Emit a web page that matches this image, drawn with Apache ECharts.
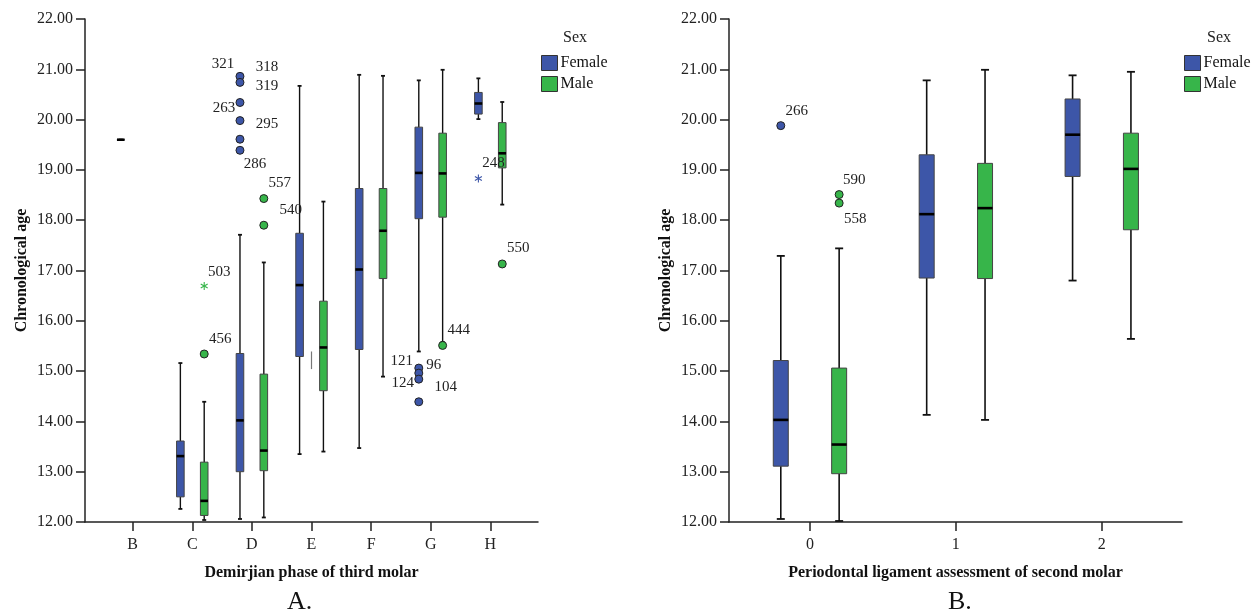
<!DOCTYPE html>
<html>
<head>
<meta charset="utf-8">
<script src="https://cdn.jsdelivr.net/npm/echarts@6/dist/echarts.min.js"></script>
<style>
html,body{margin:0;padding:0;background:#fff;}
#chart{width:1255px;height:614px;}
</style>
</head>
<body>
<div id="chart"></div>
<script>
// ---------- DATA ----------
const phaseCategories = ['B', 'C', 'D', 'E', 'F', 'G', 'H'];
const pdlCategories = ['0', '1', '2'];
const yTickValues = [12, 13, 14, 15, 16, 17, 18, 19, 20, 21, 22];

// [lower whisker, Q1, median, Q3, upper whisker]; null = no group
const phaseFemale = [
  [19.60, 19.60, 19.60, 19.60, 19.60],
  [12.26, 12.50, 13.31, 13.61, 15.16],
  [12.06, 13.00, 14.02, 15.35, 17.71],
  [13.35, 15.29, 16.71, 17.74, 20.67],
  [13.47, 15.43, 17.02, 18.63, 20.89],
  [15.39, 18.03, 18.94, 19.85, 20.78],
  [20.01, 20.11, 20.32, 20.54, 20.82]
];
const phaseMale = [
  null,
  [12.04, 12.13, 12.42, 13.19, 14.39],
  [12.09, 13.02, 13.42, 14.94, 17.16],
  [13.40, 14.61, 15.47, 16.39, 18.37],
  [14.89, 16.84, 17.79, 18.63, 20.87],
  [15.58, 18.06, 18.93, 19.73, 20.99],
  [18.31, 19.04, 19.33, 19.94, 20.35]
];
const pdlFemale = [
  [12.06, 13.11, 14.03, 15.21, 17.29],
  [14.13, 16.85, 18.12, 19.30, 20.78],
  [16.80, 18.87, 19.70, 20.41, 20.88]
];
const pdlMale = [
  [12.02, 12.96, 13.54, 15.06, 17.44],
  [14.03, 16.84, 18.24, 19.13, 20.99],
  [15.64, 17.81, 19.02, 19.73, 20.95]
];

// outliers: [category, value, case id, kind]  kind 'o' = outlier, '*' = extreme
const phaseFemaleOutliers = [
  ['D', 20.86, '321', 'o'], ['D', 20.74, '318', 'o'], ['D', 20.34, '319', 'o'],
  ['D', 19.98, '263', 'o'], ['D', 19.61, '295', 'o'], ['D', 19.39, '286', 'o'],
  ['G', 15.06, '121', 'o'], ['G', 14.96, '96', 'o'], ['G', 14.84, '124', 'o'],
  ['G', 14.39, '104', 'o'],
  ['H', 18.83, '248', '*']
];
const phaseMaleOutliers = [
  ['C', 16.69, '503', '*'], ['C', 15.34, '456', 'o'],
  ['D', 18.43, '557', 'o'], ['D', 17.90, '540', 'o'],
  ['G', 15.51, '444', 'o'],
  ['H', 17.13, '550', 'o']
];
const pdlFemaleOutliers = [['0', 19.88, '266', 'o']];
const pdlMaleOutliers = [['0', 18.51, '590', 'o'], ['0', 18.34, '558', 'o']];

// small grey stray mark at phase E: [category, from, to]
const phaseStrayMark = [['E', 15.04, 15.39]];

// ---------- LAYOUT / STYLE ----------
const labelOffsets = {
  '321': [-17, -12], '318': [27, -15], '319': [27, -16], '263': [-16, -13],
  '295': [27, -15], '286': [15, 14], '557': [16, -16], '540': [27, -15],
  '503': [15, -14], '456': [16, -15], '444': [16, -15], '121': [-17, -7],
  '96': [15, -8], '124': [-16, 4], '104': [27, -15], '248': [15, -15],
  '550': [16, -16], '266': [16, -15], '590': [15, -14], '558': [16, 16]
};
const BLUE = '#3d56a8';
const GREEN = '#37b54a';
const SERIF = '"Liberation Serif", "Times New Roman", serif';
const OFFSET = 0.2;

function boxRender(offset, halfW, capHalf, color, lw) {
  return function (params, api) {
    const x = api.value(0) + offset;
    const lo = api.coord([x, api.value(1)]);
    const q1 = api.coord([x, api.value(2)]);
    const md = api.coord([x, api.value(3)]);
    const q3 = api.coord([x, api.value(4)]);
    const hi = api.coord([x, api.value(5)]);
    const cx = lo[0];
    const ws = { stroke: '#111', lineWidth: lw };
    return {
      type: 'group',
      children: [
        { type: 'line', shape: { x1: cx, y1: hi[1], x2: cx, y2: q3[1] }, style: ws },
        { type: 'line', shape: { x1: cx, y1: q1[1], x2: cx, y2: lo[1] }, style: ws },
        { type: 'line', shape: { x1: cx - capHalf, y1: hi[1], x2: cx + capHalf, y2: hi[1] }, style: { stroke: '#111', lineWidth: 1.8 } },
        { type: 'line', shape: { x1: cx - capHalf, y1: lo[1], x2: cx + capHalf, y2: lo[1] }, style: { stroke: '#111', lineWidth: 1.8 } },
        { type: 'rect', shape: { x: cx - halfW, y: q3[1], width: 2 * halfW, height: q1[1] - q3[1] }, style: { fill: color, stroke: '#444', lineWidth: 1 } },
        { type: 'line', shape: { x1: cx - halfW, y1: md[1], x2: cx + halfW, y2: md[1] }, style: { stroke: '#000', lineWidth: 2.6 } }
      ]
    };
  };
}

function outlierRender(offset, radius, color, ids) {
  return function (params, api) {
    const p = api.coord([api.value(0) + offset, api.value(1)]);
    const id = ids[params.dataIndex][0];
    const kind = ids[params.dataIndex][1];
    const off = labelOffsets[id] || [15, -14];
    const children = [];
    if (kind === '*') {
      const r = 4;
      const st = { stroke: color, lineWidth: 1.1 };
      children.push({ type: 'line', shape: { x1: p[0], y1: p[1] - r, x2: p[0], y2: p[1] + r }, style: st });
      children.push({ type: 'line', shape: { x1: p[0] - r * 0.87, y1: p[1] - r * 0.5, x2: p[0] + r * 0.87, y2: p[1] + r * 0.5 }, style: st });
      children.push({ type: 'line', shape: { x1: p[0] - r * 0.87, y1: p[1] + r * 0.5, x2: p[0] + r * 0.87, y2: p[1] - r * 0.5 }, style: st });
    } else {
      children.push({ type: 'circle', shape: { cx: p[0], cy: p[1], r: radius }, style: { fill: color, stroke: '#222', lineWidth: 1 } });
    }
    children.push({
      type: 'text', z2: 10,
      style: { x: p[0] + off[0], y: p[1] + off[1], text: id, fill: '#222', font: '15px ' + SERIF, align: 'center', verticalAlign: 'middle' }
    });
    return { type: 'group', children: children };
  };
}

function boxData(arr) {
  const out = [];
  arr.forEach((v, i) => { if (v) out.push([i].concat(v)); });
  return out;
}
function outData(arr, cats) {
  return arr.map(o => [cats.indexOf(o[0]), o[1]]);
}
function outIds(arr) {
  return arr.map(o => [o[2], o[3]]);
}

const catIdx = cats => cats.map((c, i) => i);

function xAxisCfg(gridIndex, cats, min, max, name) {
  return {
    type: 'value', gridIndex: gridIndex, min: min, max: max,
    name: name, nameLocation: 'middle', nameGap: 43,
    nameTextStyle: { fontFamily: SERIF, fontWeight: 'bold', fontSize: 16, color: '#111' },
    axisLine: { show: true, onZero: false, lineStyle: { color: '#222', width: 1.5 } },
    axisTick: { show: true, length: 9, customValues: catIdx(cats), lineStyle: { color: '#222', width: 1.5 } },
    axisLabel: { customValues: catIdx(cats), formatter: v => cats[Math.round(v)], fontFamily: SERIF, fontSize: 16, color: '#222', margin: 15 },
    splitLine: { show: false }
  };
}
function yAxisCfg(gridIndex) {
  return {
    type: 'value', gridIndex: gridIndex,
    min: yTickValues[0], max: yTickValues[yTickValues.length - 1], interval: 1,
    name: 'Chronological age', nameLocation: 'middle', nameGap: 55,
    nameTextStyle: { fontFamily: SERIF, fontWeight: 'bold', fontSize: 16, color: '#111' },
    axisLine: { show: true, onZero: false, lineStyle: { color: '#222', width: 1.5 } },
    axisTick: { show: true, length: 9, lineStyle: { color: '#222', width: 1.5 } },
    axisLabel: { formatter: v => v.toFixed(2), fontFamily: SERIF, fontSize: 16, color: '#222', margin: 12 },
    splitLine: { show: false }
  };
}

function boxSeries(name, xi, data, offset, halfW, capHalf, color, lw) {
  return {
    type: 'custom', name: name, xAxisIndex: xi, yAxisIndex: xi,
    itemStyle: { color: color },
    renderItem: boxRender(offset, halfW, capHalf, color, lw),
    encode: { x: 0, y: [1, 2, 3, 4, 5] },
    data: boxData(data), clip: false, silent: true
  };
}
function outSeries(name, xi, arr, cats, offset, radius, color) {
  return {
    type: 'custom', name: name, xAxisIndex: xi, yAxisIndex: xi,
    itemStyle: { color: color },
    renderItem: outlierRender(offset, radius, color, outIds(arr)),
    encode: { x: 0, y: 1 },
    data: outData(arr, cats), clip: false, silent: true, z: 5
  };
}

const legendCfg = (left) => ({
  left: left, top: 55, orient: 'vertical', icon: 'rect', padding: 0,
  itemWidth: 16, itemHeight: 15, itemGap: 5, selectedMode: false,
  textStyle: { fontFamily: SERIF, fontSize: 16, color: '#111', padding: [0, 0, 0, -2] },
  data: [
    { name: 'Female', itemStyle: { color: BLUE, borderColor: '#333', borderWidth: 1 } },
    { name: 'Male', itemStyle: { color: GREEN, borderColor: '#333', borderWidth: 1 } }
  ]
});

const option = {
  backgroundColor: '#fff',
  animation: false,
  grid: [
    { left: 85, top: 19, width: 453, height: 503, outerBoundsMode: 'none' },
    { left: 729, top: 19, width: 453, height: 503, outerBoundsMode: 'none' }
  ],
  xAxis: [
    xAxisCfg(0, phaseCategories, -0.8, 6.8, 'Demirjian phase of third molar'),
    xAxisCfg(1, pdlCategories, -0.555, 2.55, 'Periodontal ligament assessment of second molar')
  ],
  yAxis: [yAxisCfg(0), yAxisCfg(1)],
  legend: [legendCfg(541), legendCfg(1184)],
  graphic: [
    { type: 'text', left: 563, top: 30, style: { text: 'Sex', font: '16px ' + SERIF, fill: '#222' } },
    { type: 'text', left: 1207, top: 30, style: { text: 'Sex', font: '16px ' + SERIF, fill: '#222' } },
    { type: 'text', left: 287, top: 589, style: { text: 'A.', font: '26px ' + SERIF, fill: '#111' } },
    { type: 'text', left: 948, top: 589, style: { text: 'B.', font: '26px ' + SERIF, fill: '#111' } }
  ],
  series: [
    boxSeries('Female', 0, phaseFemale, -OFFSET, 3.8, 2, BLUE, 1.4),
    boxSeries('Male', 0, phaseMale, OFFSET, 3.8, 2, GREEN, 1.4),
    boxSeries('Female', 1, pdlFemale, -OFFSET, 7.5, 4, BLUE, 1.6),
    boxSeries('Male', 1, pdlMale, OFFSET, 7.5, 4, GREEN, 1.6),
    outSeries('Female', 0, phaseFemaleOutliers, phaseCategories, -OFFSET, 4, BLUE),
    outSeries('Male', 0, phaseMaleOutliers, phaseCategories, OFFSET, 4, GREEN),
    outSeries('Female', 1, pdlFemaleOutliers, pdlCategories, -OFFSET, 4, BLUE),
    outSeries('Male', 1, pdlMaleOutliers, pdlCategories, OFFSET, 4, GREEN),
    {
      type: 'custom', name: 'stray', xAxisIndex: 0, yAxisIndex: 0, silent: true,
      encode: { x: 0, y: [1, 2] },
      data: phaseStrayMark.map(m => [phaseCategories.indexOf(m[0]), m[1], m[2]]),
      renderItem: function (params, api) {
        const a = api.coord([api.value(0), api.value(1)]);
        const b = api.coord([api.value(0), api.value(2)]);
        return { type: 'line', shape: { x1: a[0], y1: a[1], x2: b[0], y2: b[1] }, style: { stroke: '#777', lineWidth: 1.2 } };
      }
    }
  ]
};

const chart = echarts.init(document.getElementById('chart'), null, { renderer: 'canvas' });
chart.setOption(option);
</script>
</body>
</html>
